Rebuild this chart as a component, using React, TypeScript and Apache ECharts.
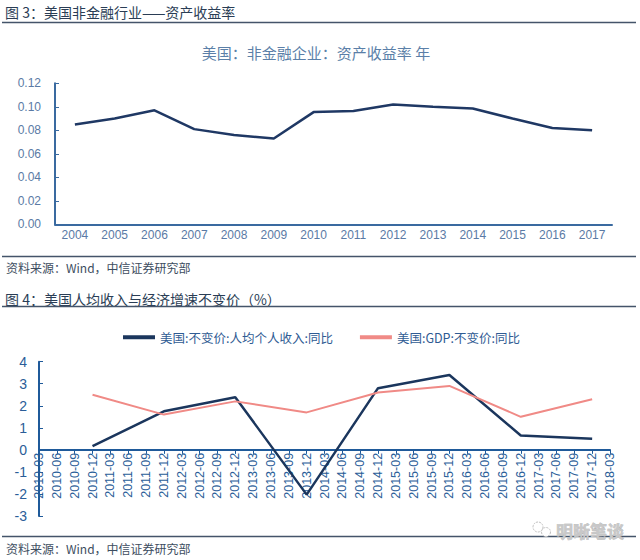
import React, { useEffect, useRef } from "react";
import * as echarts from "echarts";

const years = ["2004", "2005", "2006", "2007", "2008", "2009", "2010", "2011", "2012", "2013", "2014", "2015", "2016", "2017"];
const roa = [0.085, 0.09, 0.097, 0.081, 0.076, 0.073, 0.0955, 0.0965, 0.102, 0.1, 0.0985, 0.09, 0.082, 0.08];
const roaTicks = { min: 0, max: 0.12, interval: 0.02 };

const quarters = [
  "2010-03", "2010-06", "2010-09", "2010-12",
  "2011-03", "2011-06", "2011-09", "2011-12",
  "2012-03", "2012-06", "2012-09", "2012-12",
  "2013-03", "2013-06", "2013-09", "2013-12",
  "2014-03", "2014-06", "2014-09", "2014-12",
  "2015-03", "2015-06", "2015-09", "2015-12",
  "2016-03", "2016-06", "2016-09", "2016-12",
  "2017-03", "2017-06", "2017-09", "2017-12",
  "2018-03",
];
const annualDates = ["2010-12", "2011-12", "2012-12", "2013-12", "2014-12", "2015-12", "2016-12", "2017-12"];
const incomeYoY = [0.17, 1.75, 2.39, -2.03, 2.8, 3.4, 0.65, 0.51];
const gdpYoY = [2.5, 1.6, 2.2, 1.7, 2.6, 2.9, 1.5, 2.3];
const seriesNames = ["美国:不变价:人均个人收入:同比", "美国:GDP:不变价:同比"];
const yRange2 = { min: -3, max: 4, interval: 1 };

const FONT = "'Liberation Sans', Arial, 'Noto Sans CJK SC', sans-serif";
const CJK = "'Noto Sans CJK SC', 'Liberation Sans', sans-serif";

export default function App() {
  const ref = useRef<HTMLDivElement>(null);
  useEffect(() => {
    if (!ref.current) return;
    const chart = echarts.init(ref.current, undefined, { renderer: "svg" });
    const ruleColor = "#44546a";
    const g2Top = 361.7;
    const g2Bottom = 516;
    const zeroY = g2Top + ((g2Bottom - g2Top) * yRange2.max) / (yRange2.max - yRange2.min);
    const option: any = {
      animation: false,
      backgroundColor: "#ffffff",
      textStyle: { fontFamily: FONT },
      legend: {
        show: true,
        left: 118,
        top: 326,
        icon: "rect",
        itemWidth: 32,
        itemHeight: 4,
        itemGap: 27,
        textStyle: { fontSize: 12.5, color: "#2f5b93", fontFamily: CJK },
        data: seriesNames,
      },
      grid: [
        { left: 55, right: 28, top: 83.3, bottom: 335.7, containLabel: false },
        { left: 39, right: 30, top: g2Top, bottom: 560 - g2Bottom, containLabel: false },
      ],
      xAxis: [
        {
          gridIndex: 0,
          type: "category",
          data: years,
          boundaryGap: true,
          axisLine: { lineStyle: { color: "#3a6aa0", width: 2 } },
          axisTick: { show: false },
          axisLabel: { fontSize: 12, color: "#5a7aa5", margin: 5 },
        },
        {
          gridIndex: 1,
          type: "category",
          data: quarters,
          boundaryGap: false,
          position: "bottom",
          offset: -(g2Bottom - zeroY),
          axisLine: { onZero: false, lineStyle: { color: "#1f5a9a", width: 2 } },
          axisTick: { show: true, length: 4, inside: false, lineStyle: { color: "#1f5a9a" } },
          axisLabel: { fontSize: 12.5, color: "#2a5d98", rotate: 90, margin: 3, interval: 0 },
        },
      ],
      yAxis: [
        {
          gridIndex: 0,
          type: "value",
          min: roaTicks.min,
          max: roaTicks.max,
          interval: roaTicks.interval,
          axisLine: { show: true, lineStyle: { color: "#3a6aa0", width: 2 } },
          axisTick: { show: true, inside: true, length: 4, lineStyle: { color: "#3a6aa0" } },
          splitLine: { show: false },
          axisLabel: { fontSize: 12, color: "#5a7aa5", margin: 14, formatter: (v: number) => v.toFixed(2) },
        },
        {
          gridIndex: 1,
          type: "value",
          min: yRange2.min,
          max: yRange2.max,
          interval: yRange2.interval,
          axisLine: { show: true, lineStyle: { color: "#1f5a9a", width: 2 } },
          axisTick: { show: true, inside: true, length: 4, lineStyle: { color: "#1f5a9a" } },
          splitLine: { show: false },
          axisLabel: { fontSize: 14, color: "#2a5d98", margin: 12 },
        },
      ],
      series: [
        {
          type: "line",
          name: "资产收益率",
          xAxisIndex: 0,
          yAxisIndex: 0,
          data: roa,
          symbol: "none",
          lineStyle: { color: "#1f3864", width: 2.5 },
          itemStyle: { color: "#1f3864" },
        },
        {
          type: "line",
          name: seriesNames[0],
          xAxisIndex: 1,
          yAxisIndex: 1,
          data: annualDates.map((d, i) => [d, incomeYoY[i]]),
          symbol: "none",
          lineStyle: { color: "#1b365d", width: 2.5 },
          itemStyle: { color: "#1b365d" },
        },
        {
          type: "line",
          name: seriesNames[1],
          xAxisIndex: 1,
          yAxisIndex: 1,
          data: annualDates.map((d, i) => [d, gdpYoY[i]]),
          symbol: "none",
          lineStyle: { color: "#f08a86", width: 2 },
          itemStyle: { color: "#f08a86" },
        },
      ],
      graphic: [
        { type: "text", left: 5, top: 5, style: { text: "图 3：美国非金融行业——资产收益率", fontSize: 14, fill: "#2a3d55", fontFamily: CJK } },
        { type: "line", shape: { x1: 2, y1: 22.5, x2: 636, y2: 22.5 }, style: { stroke: ruleColor, lineWidth: 1.5 } },
        { type: "text", x: 316, y: 52, style: { text: "美国：非金融企业：资产收益率 年", fontSize: 15, fill: "#5b7fa8", fontFamily: CJK, align: "center", verticalAlign: "middle" } },
        { type: "line", shape: { x1: 2, y1: 256.5, x2: 636, y2: 256.5 }, style: { stroke: ruleColor, lineWidth: 1.5 } },
        { type: "text", x: 6, y: 267.5, style: { text: "资料来源：Wind，中信证券研究部", fontSize: 12, fill: "#3d4d60", fontFamily: CJK, verticalAlign: "middle" } },
        { type: "text", x: 5, y: 299, style: { text: "图 4：美国人均收入与经济增速不变价（%）", fontSize: 14, fill: "#2a3d55", fontFamily: CJK, verticalAlign: "middle" } },
        { type: "line", shape: { x1: 2, y1: 306.5, x2: 636, y2: 306.5 }, style: { stroke: ruleColor, lineWidth: 1.5 } },
        { type: "line", shape: { x1: 2, y1: 536.5, x2: 636, y2: 536.5 }, style: { stroke: ruleColor, lineWidth: 1.5 } },
        { type: "text", x: 6, y: 548, style: { text: "资料来源：Wind，中信证券研究部", fontSize: 12, fill: "#3d4d60", fontFamily: CJK, verticalAlign: "middle" } },
        { type: "circle", shape: { cx: 538, cy: 527, r: 5 }, style: { fill: "#ffffff", stroke: "#c0c0c0", lineWidth: 1, lineDash: [2, 1] } },
        { type: "circle", shape: { cx: 546, cy: 532, r: 4.5 }, style: { fill: "#ffffff", stroke: "#c0c0c0", lineWidth: 1, lineDash: [2, 1] } },
        { type: "text", x: 556, y: 530, style: { text: "明晰笔谈", fontSize: 17, fontWeight: "bold", fill: "#c8c8c8", stroke: "#a0a0a0", lineWidth: 0.4, fontFamily: CJK, verticalAlign: "middle" } },
      ],
    };
    chart.setOption(option);
    return () => chart.dispose();
  }, []);
  return <div ref={ref} style={{ width: 640, height: 560, position: "absolute", left: 0, top: 0 }} />;
}
